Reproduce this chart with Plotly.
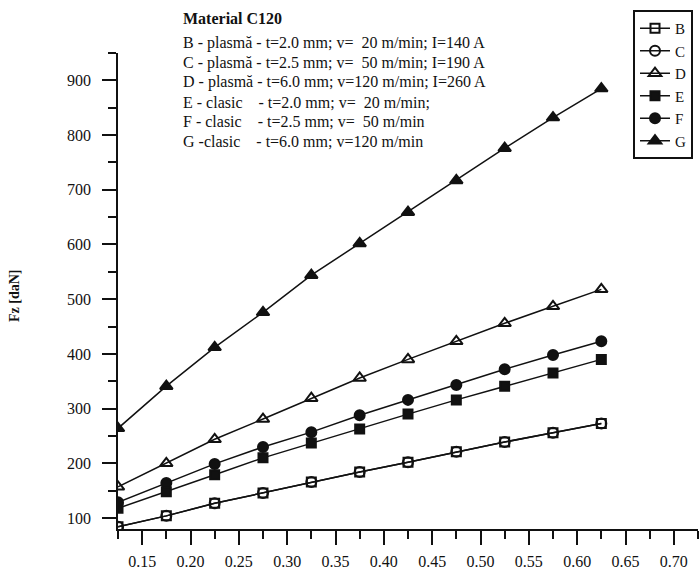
import plotly.graph_objects as go

# Feed values (mm/rev) at which the cutting force was measured
feed = [0.125, 0.175, 0.225, 0.275, 0.325, 0.375, 0.425, 0.475, 0.525, 0.575, 0.625]

# Main cutting force Fz [daN] for each regime
fz_B = [84, 104, 127, 146, 166, 184, 202, 221, 239, 256, 273]
fz_C = [84, 104, 127, 146, 166, 184, 202, 221, 239, 256, 273]
fz_D = [157, 200, 244, 281, 319, 356, 390, 423, 456, 487, 518]
fz_E = [118, 148, 179, 210, 237, 263, 290, 316, 341, 365, 390]
fz_F = [129, 164, 199, 230, 257, 288, 316, 343, 372, 398, 423]
fz_G = [264, 341, 412, 476, 544, 602, 659, 717, 776, 832, 885]

series_names = ["B", "C", "D", "E", "F", "G"]
series_values = [fz_B, fz_C, fz_D, fz_E, fz_F, fz_G]
series_symbols = ["square-open", "circle-open", "triangle-up-open",
                  "square", "circle", "triangle-up"]
series_sizes = [9, 10, 11, 9, 10, 11]

legend_lines = [
    "B - plasmă - t=2.0 mm; v=\u00a0\u00a020 m/min; I=140 A",
    "C - plasmă - t=2.5 mm; v=\u00a0\u00a050 m/min; I=190 A",
    "D - plasmă - t=6.0 mm; v=120 m/min; I=260 A",
    "E - clasic\u00a0\u00a0\u00a0\u00a0- t=2.0 mm; v=\u00a0\u00a020 m/min;",
    "F - clasic\u00a0\u00a0\u00a0\u00a0- t=2.5 mm; v=\u00a0\u00a050 m/min",
    "G -clasic\u00a0\u00a0\u00a0\u00a0- t=6.0 mm; v=120 m/min",
]

SERIF = "Liberation Serif"
INK = "#111111"

fig = go.Figure()
for name, vals, sym, sz in zip(series_names, series_values, series_symbols, series_sizes):
    fig.add_trace(go.Scatter(
        x=feed, y=vals, name=name, mode="lines+markers",
        line=dict(color=INK, width=1.5),
        marker=dict(symbol=sym, size=sz, color=INK,
                    line=dict(color=INK, width=2)),
    ))

# Plot geometry in pixels
W, H = 700, 571
ML, MR, MT, MB = 118, 2, 53, 42
pw, ph = W - ML - MR, H - MT - MB

def px_x(x):
    return (x - ML) / pw

def px_y(y):
    return (H - MB - y) / ph

fig.add_annotation(text="<b>Material C120</b>", xref="paper", yref="paper",
                   x=px_x(181), y=px_y(18), xanchor="left", yanchor="middle",
                   showarrow=False, font=dict(family=SERIF, size=16, color=INK))
for i, line in enumerate(legend_lines):
    fig.add_annotation(text=line, xref="paper", yref="paper",
                       x=px_x(181), y=px_y(43 + i * 19.7),
                       xanchor="left", yanchor="middle", showarrow=False,
                       font=dict(family=SERIF, size=16, color=INK))

fig.add_annotation(text="<b>Fz [daN]</b>", xref="paper", yref="paper",
                   x=px_x(14), y=px_y(296), textangle=-90,
                   xanchor="center", yanchor="middle", showarrow=False,
                   font=dict(family=SERIF, size=14, color=INK))

fig.update_layout(
    width=W, height=H,
    margin=dict(l=ML, r=MR, t=MT, b=MB),
    paper_bgcolor="white", plot_bgcolor="white",
    showlegend=True,
    legend=dict(x=px_x(633), y=px_y(10), xanchor="left", yanchor="top",
                bordercolor=INK, borderwidth=2, bgcolor="white",
                font=dict(family=SERIF, size=15, color=INK),
                traceorder="normal", itemwidth=30),
    font=dict(family=SERIF, color=INK),
)
fig.update_xaxes(
    range=[0.125, 0.725], showgrid=False, zeroline=False,
    showline=True, linecolor=INK, linewidth=1.5,
    tickmode="array", tickvals=[0.15, 0.20, 0.25, 0.30, 0.35, 0.40, 0.45,
                                0.50, 0.55, 0.60, 0.65, 0.70],
    ticktext=["0.15", "0.20", "0.25", "0.30", "0.35", "0.40", "0.45",
              "0.50", "0.55", "0.60", "0.65", "0.70"],
    ticks="outside", ticklen=14, tickwidth=1.5, tickcolor=INK,
    minor=dict(tickmode="array", tickvals=[0.125, 0.175, 0.225, 0.275, 0.325,
                                           0.375, 0.425, 0.475, 0.525, 0.575,
                                           0.625, 0.675, 0.725],
               ticks="outside", ticklen=8, tickwidth=1.5, tickcolor=INK),
    tickfont=dict(family=SERIF, size=16, color=INK), ticklabelstandoff=3,
)
fig.update_yaxes(
    range=[80, 950], showgrid=False, zeroline=False,
    showline=True, linecolor=INK, linewidth=1.5,
    tickmode="array", tickvals=[100, 200, 300, 400, 500, 600, 700, 800, 900],
    ticks="outside", ticklen=14, tickwidth=1.5, tickcolor=INK,
    minor=dict(tickmode="array", tickvals=[150, 250, 350, 450, 550, 650,
                                           750, 850, 950],
               ticks="outside", ticklen=8, tickwidth=1.5, tickcolor=INK),
    tickfont=dict(family=SERIF, size=16, color=INK), ticklabelstandoff=8,
)

fig.write_html("out.html")
